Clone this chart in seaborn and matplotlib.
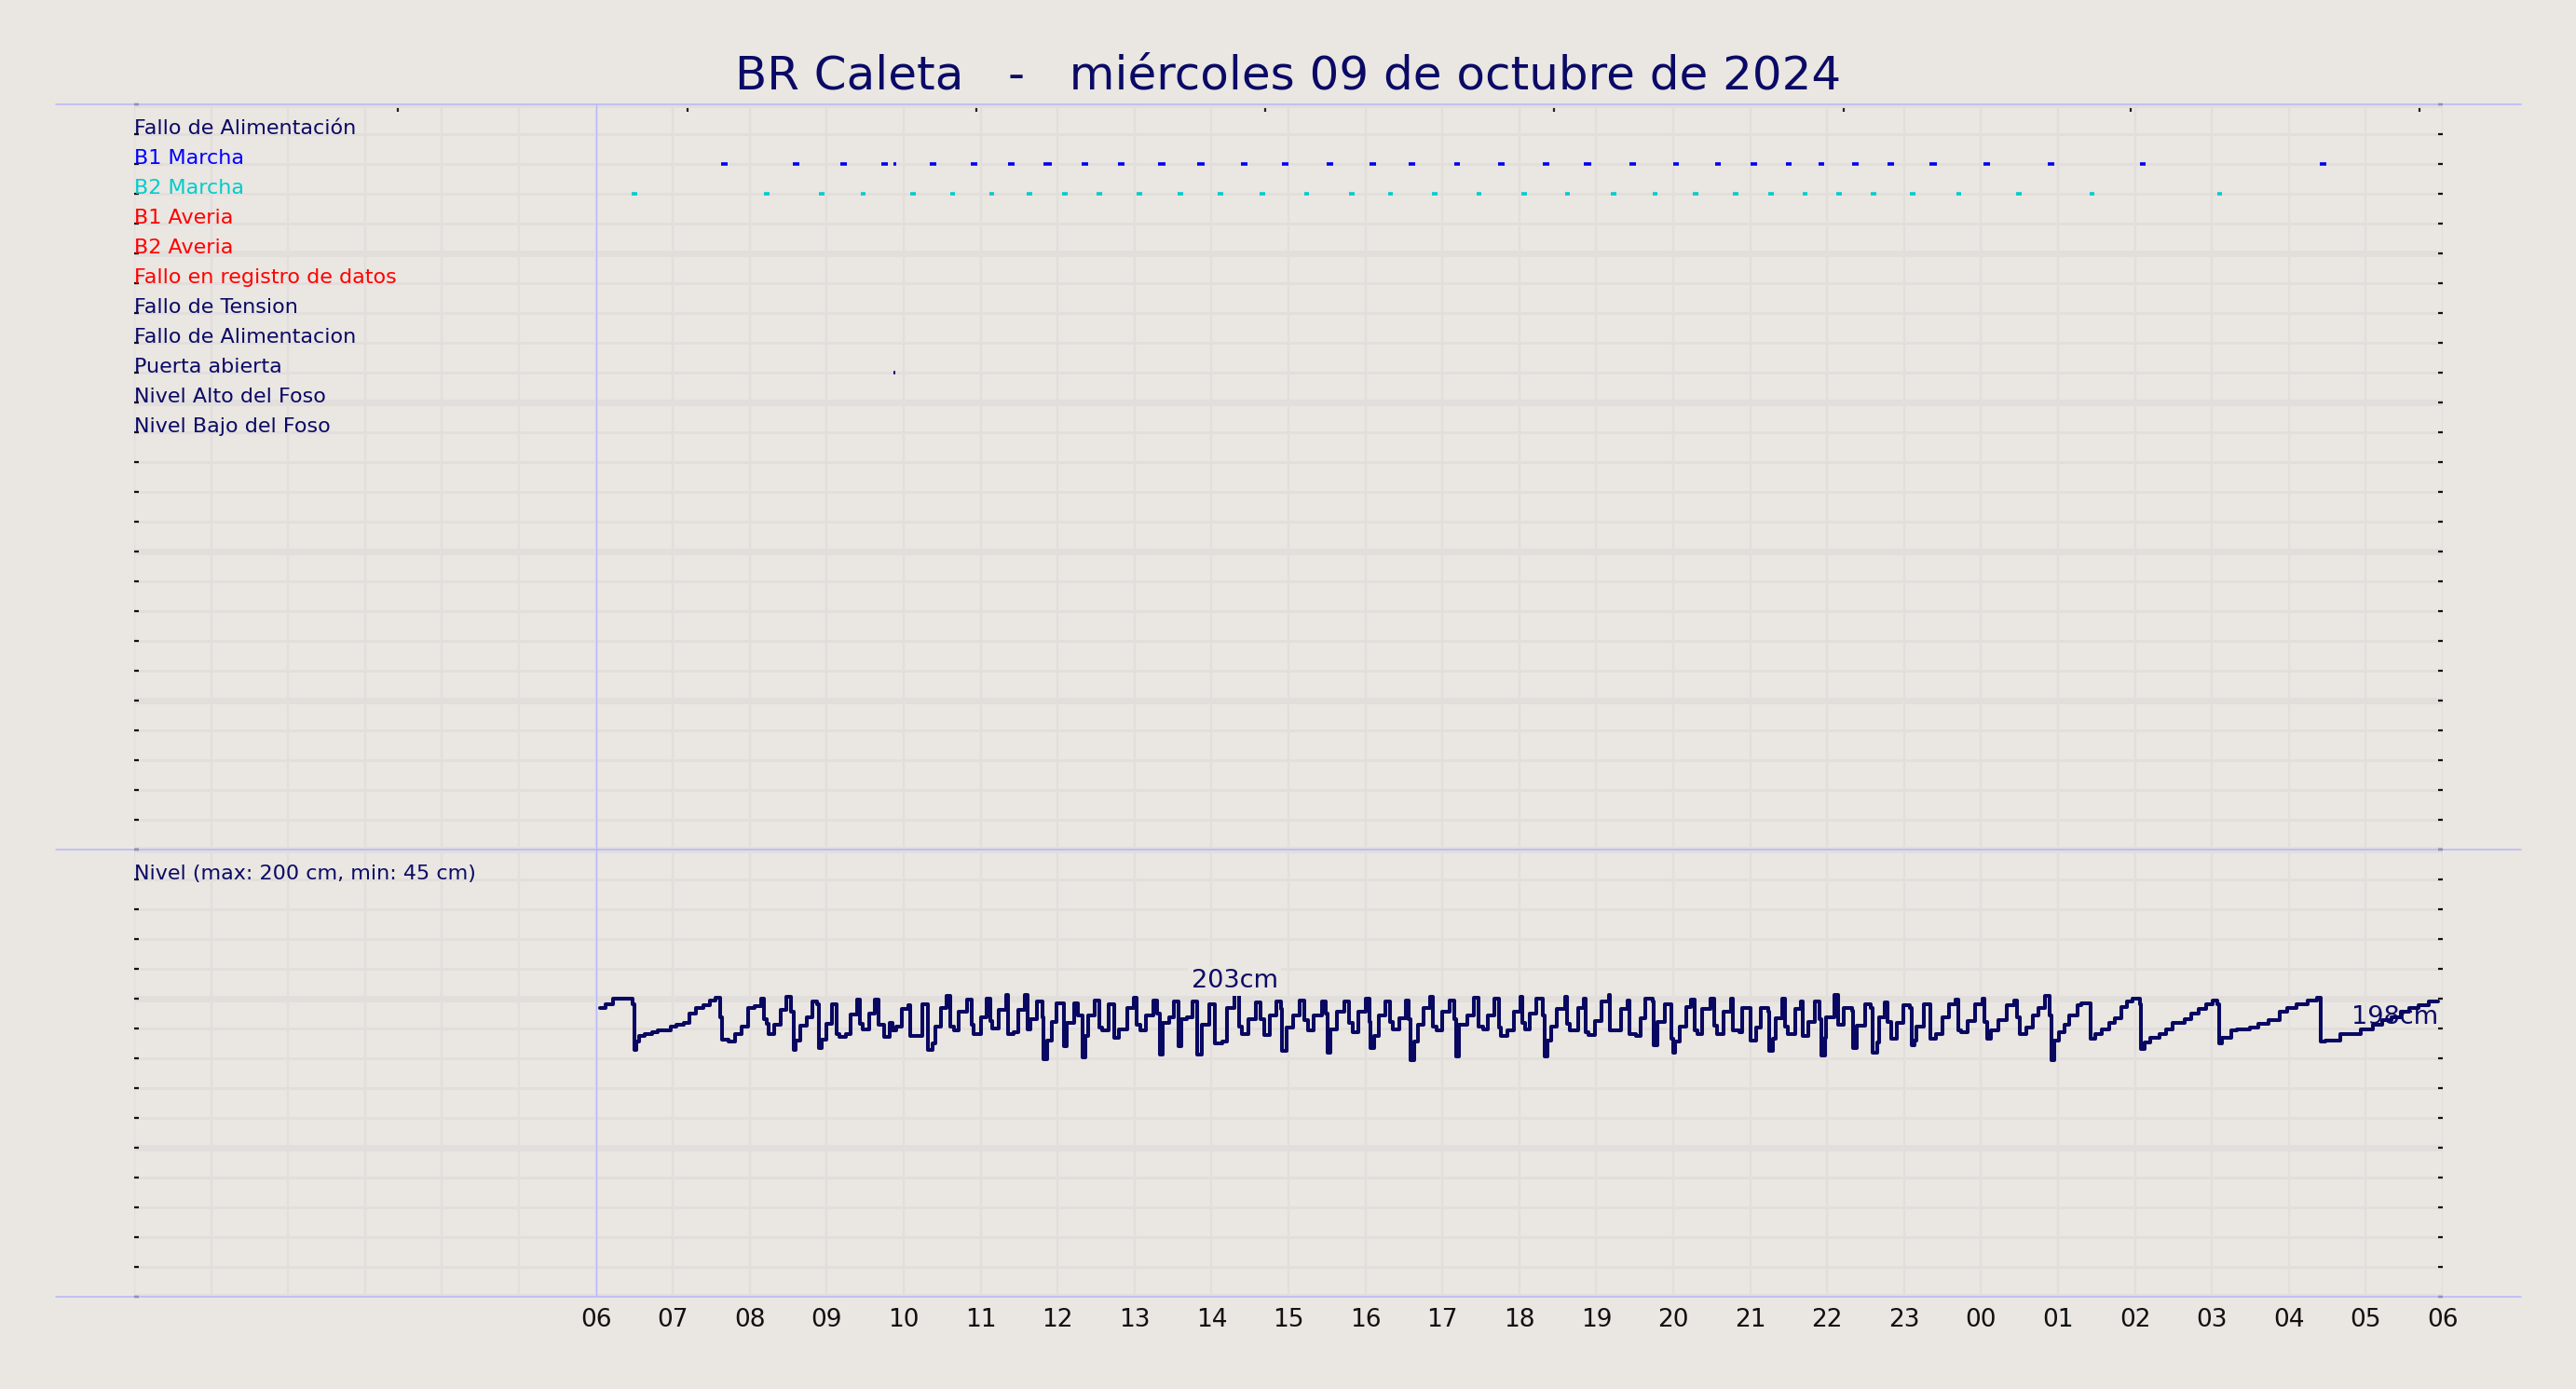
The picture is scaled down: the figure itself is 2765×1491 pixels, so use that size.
import matplotlib
matplotlib.use("Agg")
import matplotlib.pyplot as plt
from matplotlib.lines import Line2D
from matplotlib.ticker import MultipleLocator, FixedLocator
import pandas as pd
import seaborn as sns

# ---------------- data ----------------
titulo = "BR Caleta   -   miércoles 09 de octubre de 2024"

senales = ["Fallo de Alimentación", "B1 Marcha", "B2 Marcha", "B1 Averia",
           "B2 Averia", "Fallo en registro de datos", "Fallo de Tension",
           "Fallo de Alimentacion", "Puerta abierta", "Nivel Alto del Foso",
           "Nivel Bajo del Foso"]
colores_senal = ["#0a0a66", "#0000ff", "#00cccc", "#ff0000", "#ff0000",
                 "#ff0000", "#0a0a66", "#0a0a66", "#0a0a66", "#0a0a66", "#0a0a66"]

horas_eje = list(range(0, 31))
etiquetas_hora = ["", "", "", "", "", "",
                  "06", "07", "08", "09", "10", "11", "12", "13", "14", "15",
                  "16", "17", "18", "19", "20", "21", "22", "23", "00", "01",
                  "02", "03", "04", "05", "06"]
ticks_superiores = [3.43, 7.19, 10.94, 14.70, 18.45, 22.21, 25.94, 29.70]

# pump running events (hours since 00:00 of the day)
b1_inicio = [7.63, 8.56, 9.18, 9.71, 9.87, 10.34, 10.87, 11.36, 11.82, 12.31,
             12.78, 13.30, 13.81, 14.38, 14.92, 15.50, 16.05, 16.56, 17.15,
             17.72, 18.31, 18.84, 19.43, 20.00, 20.54, 21.01, 21.46, 21.89,
             22.32, 22.79, 23.33, 24.03, 24.87, 26.06, 28.40]
b1_duracion_min = [5, 5, 5, 5, 2, 5, 5, 5, 6, 5, 5, 6, 6, 5, 5, 5, 5, 5, 5,
                   5, 5, 6, 5, 4, 5, 5, 5, 4, 5, 5, 6, 5, 5, 5, 5]
b2_inicio = [6.47, 8.19, 8.90, 9.44, 10.09, 10.60, 11.11, 11.60, 12.06, 12.51,
             13.03, 13.56, 14.08, 14.63, 15.20, 15.79, 16.29, 16.87, 17.44,
             18.03, 18.59, 19.19, 19.73, 20.26, 20.78, 21.24, 21.68, 22.12,
             22.57, 23.08, 23.68, 24.46, 25.41, 27.07]
b2_duracion_min = [4] * 34
puerta_inicio = [9.87]
puerta_duracion_min = [1.2]

nivel_hora = [
    6.05, 6.13, 6.22, 6.48, 6.50, 6.52, 6.56, 6.64, 6.73, 6.80, 6.88, 6.97,
    7.05, 7.14, 7.22, 7.30, 7.40, 7.48, 7.56, 7.61, 7.64, 7.73, 7.81, 7.89,
    7.98, 8.06, 8.15, 8.18, 8.22, 8.24, 8.32, 8.40, 8.48, 8.54, 8.57, 8.60,
    8.66, 8.74, 8.81, 8.87, 8.90, 8.93, 8.99, 9.07, 9.13, 9.17, 9.25, 9.31,
    9.40, 9.43, 9.47, 9.55, 9.63, 9.67, 9.74, 9.82, 9.86, 9.90, 9.98, 10.06,
    10.08, 10.24, 10.31, 10.37, 10.41, 10.48, 10.56, 10.60, 10.65, 10.72,
    10.82, 10.88, 10.91, 11.00, 11.08, 11.12, 11.15, 11.24, 11.33, 11.35,
    11.43, 11.49, 11.57, 11.61, 11.65, 11.73, 11.80, 11.82, 11.86, 11.93,
    11.99,
    12.08, 12.12, 12.22, 12.26, 12.33, 12.36, 12.40, 12.48, 12.54, 12.58,
    12.66, 12.74, 12.80, 12.91, 12.99, 13.03, 13.07, 13.15, 13.25, 13.29,
    13.33, 13.36, 13.45, 13.51, 13.57, 13.61, 13.68, 13.75, 13.81, 13.87,
    13.97, 14.04, 14.14, 14.20, 14.30, 14.36, 14.40, 14.48, 14.58, 14.64,
    14.68, 14.76, 14.84, 14.90, 14.92, 14.97, 15.06, 15.15, 15.20, 15.25,
    15.33, 15.43, 15.49, 15.51, 15.55, 15.63, 15.73, 15.79, 15.83, 15.91,
    16.01, 16.05, 16.07, 16.11, 16.17, 16.26, 16.32, 16.36, 16.44, 16.52,
    16.56, 16.58, 16.63, 16.68, 16.76, 16.84, 16.88, 16.92, 17.00, 17.10,
    17.16, 17.18, 17.22, 17.32, 17.41, 17.47, 17.53, 17.59, 17.67, 17.74,
    17.76, 17.85, 17.93, 18.01,
    18.04, 18.07, 18.13, 18.22, 18.30, 18.33, 18.37, 18.41, 18.49, 18.59,
    18.62, 18.66, 18.76, 18.84, 18.86, 18.90, 18.98, 19.07, 19.17, 19.18,
    19.32, 19.41, 19.43, 19.52, 19.58, 19.64, 19.73, 19.75, 19.79, 19.89,
    19.97, 20.00, 20.03, 20.09, 20.17, 20.23, 20.28, 20.31, 20.37, 20.49,
    20.53, 20.57, 20.65, 20.75, 20.78, 20.86, 20.90, 21.01, 21.08, 21.14,
    21.24, 21.25, 21.29, 21.33, 21.42, 21.45, 21.49, 21.58, 21.66, 21.68,
    21.76, 21.84, 21.90, 21.92, 21.97, 21.99, 22.09, 22.14, 22.21, 22.32,
    22.34, 22.39, 22.49, 22.57, 22.59, 22.65, 22.68, 22.75, 22.79, 22.83,
    22.91, 22.99, 23.08, 23.10, 23.14, 23.16, 23.26, 23.34, 23.42, 23.50,
    23.58, 23.67, 23.70, 23.74, 23.82, 23.92, 24.02, 24.04, 24.08, 24.13,
    24.23, 24.33, 24.43, 24.47, 24.50, 24.59, 24.67, 24.75, 24.83, 24.89,
    24.92, 24.95, 25.01, 25.09, 25.15, 25.25, 25.30, 25.42, 25.48, 25.57,
    25.66, 25.74, 25.82, 25.90, 25.97, 26.06, 26.08, 26.12, 26.20, 26.32,
    26.40, 26.49, 26.65, 26.73, 26.83, 26.93, 27.01, 27.07, 27.09, 27.13,
    27.25, 27.33, 27.49, 27.60, 27.74, 27.88, 27.98, 28.10, 28.24, 28.36,
    28.42, 28.48, 28.67, 28.93, 29.09, 29.21, 29.33, 29.45, 29.57, 29.69,
    29.82, 29.94]
nivel_cm = [
    194, 196.5, 200, 196.5, 165.5, 171.5, 175, 176, 177.5, 178.5, 179, 181,
    182.5, 184, 190, 194, 195.5, 198.5, 200.5, 187.5, 172.5, 171, 176.5, 181,
    193.5, 195, 200, 186, 183, 176.5, 182.5, 192.5, 201.5, 191, 165.5, 172,
    182, 187.5, 198, 196.5, 167, 172.5, 183, 196, 176.5, 174.5, 176.5, 189.5,
    199.5, 183, 179.5, 190, 199.5, 182.5, 174.5, 183.5, 178.5, 181, 193, 195.5,
    175, 196.5, 165.5, 170, 181, 194, 202, 181.5, 179, 191,
    199.5, 182.5, 176, 187.5, 200, 185, 180, 192.5, 202.5, 176.5,
    177.5, 192.5, 202.5, 179.5, 186.5, 198, 187.5, 159.5, 172, 184.5,
    197,
    168, 183.5, 197, 189, 160.5, 175, 189, 199, 180.5, 179,
    196, 174, 179.5, 194, 200.5, 182.5, 178.5, 189, 198.5, 190,
    162.5, 183.5, 187.5, 198, 168, 186.5, 187.5, 198, 162.5, 182.5,
    196, 170, 171.5, 194, 203, 181.5, 176.5, 186.5, 197.5, 186.5,
    175.5, 189, 198, 193, 165, 180.5, 189, 199, 185.5, 178.5,
    189, 198, 190, 164, 179.5, 191, 198, 183.5, 177.5, 191,
    200, 184.5, 167, 175, 189, 198, 184.5, 179.5, 187, 199,
    186.5, 159, 171, 182.5, 193.5, 201, 181.5, 178.5, 191, 199,
    186.5, 161.5, 182.5, 189, 200.5, 181.5, 179.5, 189, 200, 180.5,
    175, 178.5, 191, 201,
    183.5, 179.5, 190, 200, 189, 161.5, 172, 181, 193, 201,
    183, 179, 194, 200, 177.5, 175.5, 185, 198, 202.5, 178.5,
    193, 199, 176.5, 175, 187, 200, 198, 168.5, 184.5, 196,
    173, 163.5, 171.5, 181.5, 194.5, 199.5, 178.5, 176.5, 193, 200,
    182, 176.5, 191.5, 200, 178.5, 177.5, 193.5, 172, 180.5, 194,
    191, 165, 173, 187, 200, 181.5, 176.5, 193, 198, 175,
    184.5, 198, 186.5, 162, 174, 187.5, 202.5, 182.5, 194, 192,
    167, 182, 196, 193.5, 163.5, 170.5, 187.5, 197.5, 184.5, 173,
    183.5, 195.5, 194, 169, 172, 181.5, 196, 173, 176.5, 187.5,
    196, 199.5, 178.5, 177.5, 185, 196, 200, 184.5, 173, 178.5,
    185.5, 195.5, 199, 187.5, 176.5, 180.5, 189, 194, 202, 189,
    158.5, 172, 177.5, 182.5, 189, 195.5, 197, 173, 176.5, 179.5,
    184, 187, 194.5, 198, 200, 196, 166.5, 170.5, 174, 176.5,
    179.5, 184, 186.5, 190, 193, 196, 199, 196, 170, 174,
    178.5, 179.5, 180.5, 183, 185.5, 191, 193.5, 196, 199, 200.5,
    171, 172, 176.5, 179.5, 182.5, 185.5, 187.5, 191, 193.5, 195.5,
    198, 198]

texto_nivel = "Nivel (max: 200 cm, min: 45 cm)"

# ---------------- style ----------------
BG = "#EAE6E1"
GRID = "#E2DEDC"
NAVY = "#0a0a66"
LINE_NAVY = "#080862"
FRAME = "#b6b6fc"

sns.set_style("white", {"axes.facecolor": BG, "figure.facecolor": BG})
plt.rcParams["font.family"] = ["DejaVu Sans"]

W, H = 2765, 1491
fig = plt.figure(figsize=(W / 100, H / 100), dpi=100, facecolor=BG)

x_left, x_right = 144 / W, 2622 / W
y_top, y_mid, y_bot = 1 - 112 / H, 1 - 912 / H, 1 - 1392 / H

ax_top = fig.add_axes([x_left, y_mid, x_right - x_left, y_top - y_mid])
ax_bot = fig.add_axes([x_left, y_bot, x_right - x_left, y_mid - y_bot])

for ax in (ax_top, ax_bot):
    ax.set_facecolor(BG)
    for s in ax.spines.values():
        s.set_visible(False)
    ax.set_xlim(0, 30)
    ax.set_xticks(horas_eje)
    ax.set_axisbelow(True)
    ax.grid(axis="x", which="major", color=GRID, lw=1.7)
    ax.grid(axis="y", which="minor", color=GRID, lw=2.1)
    ax.grid(axis="y", which="major", color=GRID, lw=5.0)
    ax.tick_params(axis="y", which="both", left=True, right=True,
                   direction="in", length=3.8, width=1.6, color="#111111",
                   labelleft=False, labelright=False)
    ax.axvline(6, color=FRAME, lw=1.0, zorder=1.5)

# top panel: signal rows
ax_top.set_ylim(25, 0)
ax_top.yaxis.set_major_locator(MultipleLocator(5))
ax_top.yaxis.set_minor_locator(MultipleLocator(1))
ax_top.tick_params(axis="x", which="major", length=0, labelbottom=False)
ax_top.xaxis.set_minor_locator(FixedLocator(ticks_superiores))
ax_top.tick_params(axis="x", which="minor", top=True, bottom=False,
                   direction="in", length=5.5, width=1.6, color="#222222")

for i, (nombre, col) in enumerate(zip(senales, colores_senal)):
    ax_top.text(0, i + 1, nombre, color=col, fontsize=16, ha="left",
                va="baseline", zorder=5)

eventos = [(b1_inicio, b1_duracion_min, 2, "#0000f0"),
           (b2_inicio, b2_duracion_min, 3, "#00cccc"),
           (puerta_inicio, puerta_duracion_min, 9, NAVY)]
for ini, dur, fila, col in eventos:
    fin = [a + d / 60 for a, d in zip(ini, dur)]
    ax_top.hlines([fila] * len(ini), ini, fin, colors=col, lw=2.6,
                  capstyle="butt", zorder=4)

# bottom panel: level
ax_bot.set_ylim(0, 300)
ax_bot.yaxis.set_major_locator(MultipleLocator(100))
ax_bot.yaxis.set_minor_locator(MultipleLocator(20))
ax_bot.set_xticklabels(etiquetas_hora, fontsize=19, color="#111111")
ax_bot.tick_params(axis="x", which="major", length=0, pad=9)

df = pd.DataFrame({"hora": nivel_hora, "cm": nivel_cm})
sns.lineplot(data=df, x="hora", y="cm", ax=ax_bot, estimator=None,
             drawstyle="steps-post", color=LINE_NAVY, lw=2.9, zorder=4)
ax_bot.set_xlabel("")
ax_bot.set_ylabel("")
ax_bot.set_xlim(0, 30)

ax_bot.text(0, 280, texto_nivel, color=NAVY, fontsize=16, ha="left",
            va="baseline", zorder=5)

imax = df["cm"].idxmax()
ax_bot.annotate(f"{df['cm'][imax]:.0f}cm", (df["hora"][imax], df["cm"][imax]),
                xytext=(0, 1), textcoords="offset points", ha="center",
                va="bottom", fontsize=19.5, color=NAVY, zorder=5,
                bbox=dict(boxstyle="square,pad=0.12", fc=BG, ec="none"))
ax_bot.annotate(f"{df['cm'].iloc[-1]:.0f}cm",
                (df["hora"].iloc[-1], df["cm"].iloc[-1]),
                xytext=(0, -3), textcoords="offset points", ha="right",
                va="top", fontsize=19.5, color=NAVY, zorder=3)

# figure frame lines
for yy in (y_top, y_mid, y_bot):
    fig.add_artist(Line2D([60 / W, 2706 / W], [yy, yy], transform=fig.transFigure,
                          color=FRAME, lw=1.1))

fig.text(0.5, 1 - 81 / H, titulo, ha="center", va="center", fontsize=36,
         color=NAVY)

fig.savefig("out.png", dpi=100, facecolor=BG)
